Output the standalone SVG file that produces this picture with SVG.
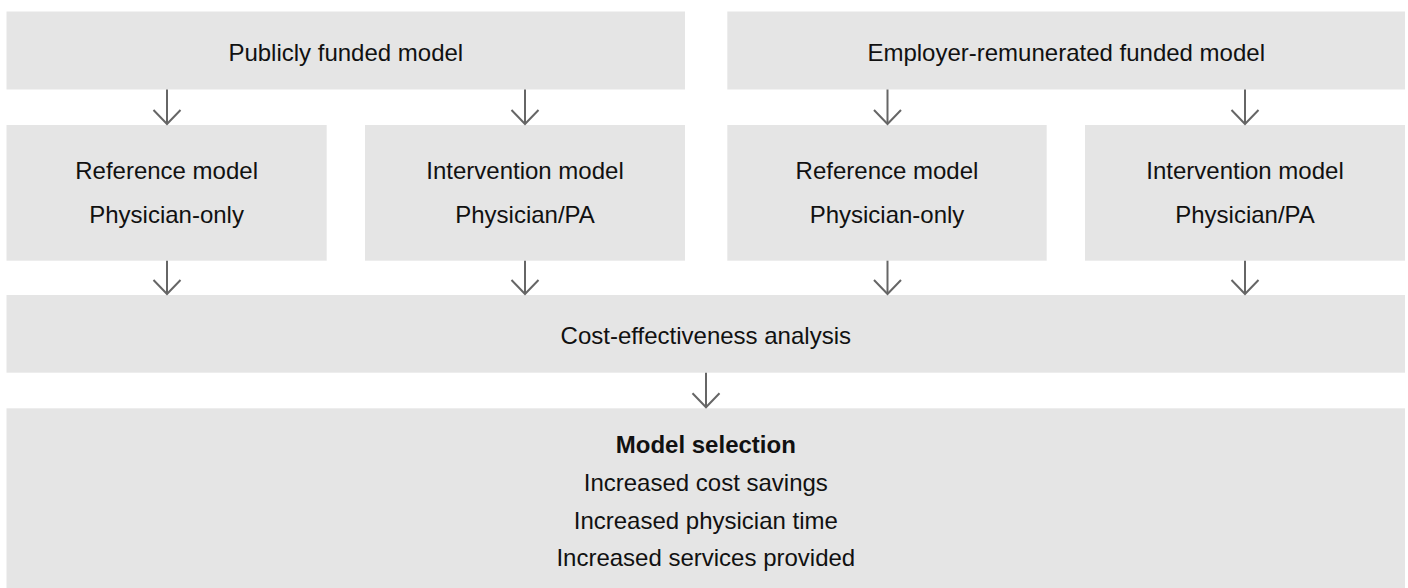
<svg xmlns="http://www.w3.org/2000/svg" width="1408" height="588" viewBox="0 0 1408 588">
  <defs>
    <style>
      .box { fill: #e5e5e5; }
      .lbl { font-family: "Liberation Sans", Arial, Helvetica, sans-serif; font-size: 24px; fill: #111; text-anchor: middle; }
      .bold { font-weight: bold; }
      .conn { stroke: #666; stroke-width: 2; fill: none; marker-end: url(#vhead); }
    </style>
    <marker id="vhead" markerUnits="userSpaceOnUse" markerWidth="30" markerHeight="30" refX="0" refY="0" orient="auto" overflow="visible">
      <path d="M-14,-13.5 L0,0 L-14,13.5" fill="none" stroke="#666" stroke-width="2"/>
    </marker>
  </defs>

  <rect width="1408" height="588" fill="#fff"/>

  <!-- funding models -->
  <g id="publicly-funded">
    <rect class="box" x="6.5" y="11.5" width="678.5" height="78"/>
    <text class="lbl" x="345.8" y="60.5">Publicly funded model</text>
  </g>
  <g id="employer-funded">
    <rect class="box" x="727.3" y="11.5" width="677.7" height="78"/>
    <text class="lbl" x="1066.2" y="60.5">Employer-remunerated funded model</text>
  </g>

  <!-- staffing models -->
  <g id="public-reference">
    <rect class="box" x="6.5" y="125" width="320.2" height="135.7"/>
    <text class="lbl" x="166.6" y="179.3">Reference model</text>
    <text class="lbl" x="166.6" y="223.3">Physician-only</text>
  </g>
  <g id="public-intervention">
    <rect class="box" x="365" y="125" width="320" height="135.7"/>
    <text class="lbl" x="525" y="179.3">Intervention model</text>
    <text class="lbl" x="525" y="223.3">Physician/PA</text>
  </g>
  <g id="employer-reference">
    <rect class="box" x="727.3" y="125" width="319.4" height="135.7"/>
    <text class="lbl" x="887" y="179.3">Reference model</text>
    <text class="lbl" x="887" y="223.3">Physician-only</text>
  </g>
  <g id="employer-intervention">
    <rect class="box" x="1085" y="125" width="320" height="135.7"/>
    <text class="lbl" x="1245" y="179.3">Intervention model</text>
    <text class="lbl" x="1245" y="223.3">Physician/PA</text>
  </g>

  <!-- analysis -->
  <g id="cost-effectiveness">
    <rect class="box" x="6.5" y="295" width="1398.5" height="77.7"/>
    <text class="lbl" x="705.8" y="344">Cost-effectiveness analysis</text>
  </g>

  <!-- outcome -->
  <g id="model-selection">
    <rect class="box" x="6.5" y="408.3" width="1398.5" height="179.7"/>
    <text class="lbl bold" x="705.8" y="453.3">Model selection</text>
    <text class="lbl" x="705.8" y="490.7">Increased cost savings</text>
    <text class="lbl" x="705.8" y="528.7">Increased physician time</text>
    <text class="lbl" x="705.8" y="566">Increased services provided</text>
  </g>

  <!-- connectors -->
  <g id="connectors">
    <line class="conn" x1="167" y1="89.5" x2="167" y2="124"/>
    <line class="conn" x1="525" y1="89.5" x2="525" y2="124"/>
    <line class="conn" x1="887.5" y1="89.5" x2="887.5" y2="124"/>
    <line class="conn" x1="1245" y1="89.5" x2="1245" y2="124"/>
    <line class="conn" x1="167" y1="260.7" x2="167" y2="294"/>
    <line class="conn" x1="525" y1="260.7" x2="525" y2="294"/>
    <line class="conn" x1="887.5" y1="260.7" x2="887.5" y2="294"/>
    <line class="conn" x1="1245" y1="260.7" x2="1245" y2="294"/>
    <line class="conn" x1="706" y1="372.7" x2="706" y2="407.3"/>
  </g>
</svg>
